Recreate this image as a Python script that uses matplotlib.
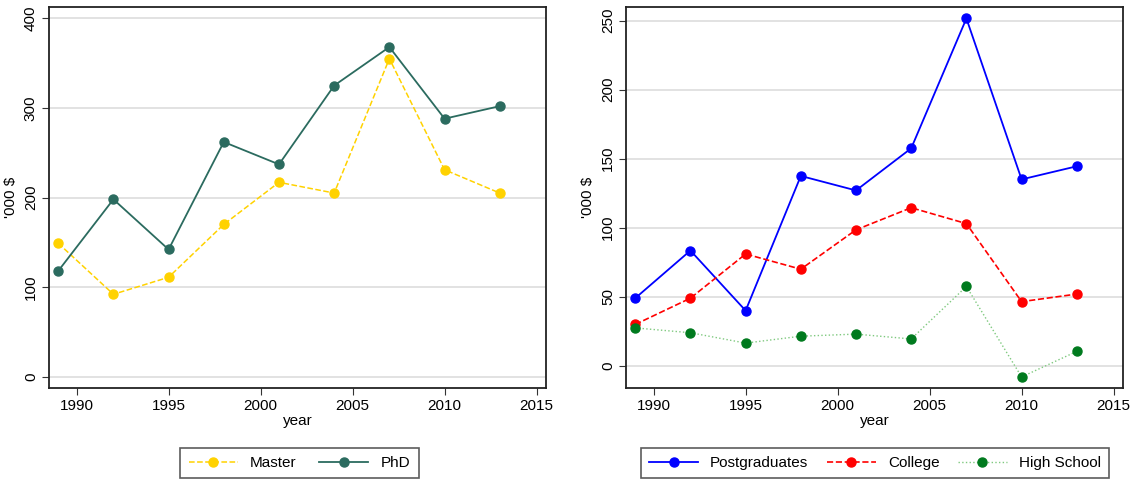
import numpy as np
import matplotlib
matplotlib.use("Agg")
import matplotlib.pyplot as plt

plt.rcParams['font.family'] = ['Liberation Sans', 'DejaVu Sans']

years = [1989, 1992, 1995, 1998, 2001, 2004, 2007, 2010, 2013]

# left panel
master = [149, 92, 111, 170, 217, 205, 355, 231, 205]
phd = [118, 198, 142, 262, 237, 325, 368, 288, 302]

# right panel
postgrad = [49, 83.5, 40, 137.5, 127, 157.5, 251.5, 135, 144.5]
college = [30, 49, 81, 70, 98.5, 114.5, 103, 46.5, 52]
highschool = [27.5, 24, 16.5, 21.5, 23, 19.5, 57.5, -8, 10.5]

xticks = [1990, 1995, 2000, 2005, 2010, 2015]

fig = plt.figure(figsize=(11.37, 4.83), dpi=100)
ax1 = fig.add_axes([0.0431, 0.1967, 0.4369, 0.7894])
ax2 = fig.add_axes([0.5506, 0.1967, 0.4369, 0.7894])

ms = 6.5
l1, = ax1.plot(years, master, color='#FFD200', ls='--', lw=1.1, marker='o', ms=ms, label='Master')
l2, = ax1.plot(years, phd, color='#2B6B5F', ls='-', lw=1.3, marker='o', ms=ms, label='PhD')

r1, = ax2.plot(years, postgrad, color='#0000FF', ls='-', lw=1.3, marker='o', ms=ms, label='Postgraduates')
r2, = ax2.plot(years, college, color='#FF0000', ls='--', lw=1.2, marker='o', ms=ms, label='College')
r3, = ax2.plot(years, highschool, color='#7FC97F', ls=':', lw=1.0, marker='o', ms=ms,
               markerfacecolor='#007A1E', markeredgecolor='#007A1E', label='High School')

fs = 11
for ax in (ax1, ax2):
    ax.set_xlim(1988.5, 2015.5)
    ax.set_xticks(xticks)
    ax.set_xlabel('year', fontsize=fs, labelpad=1)
    ax.set_ylabel("'000 $", fontsize=fs, labelpad=4)
    ax.grid(axis='y', color='#DDDDDD', lw=1.2)
    ax.set_axisbelow(True)
    ax.tick_params(axis='both', labelsize=fs, direction='out', length=5, width=0.8,
                   color='#333333', pad=3)
    for sp in ax.spines.values():
        sp.set_color('#222222')
        sp.set_linewidth(1.3)

ax1.set_ylim(-12.6, 413)
ax1.set_yticks([0, 100, 200, 300, 400])
ax2.set_ylim(-16, 260)
ax2.set_yticks([0, 50, 100, 150, 200, 250])
for ax in (ax1, ax2):
    for lab in ax.get_yticklabels():
        lab.set_rotation(90)
        lab.set_va('center')

leg_kw = dict(loc='center', fontsize=fs, frameon=True, fancybox=False, edgecolor='#333333',
              handlelength=3.2, handletextpad=0.8, borderpad=0.55)
lg1 = fig.legend(handles=[l1, l2], ncol=2, bbox_to_anchor=(0.2634, 0.0414),
                 columnspacing=1.5, **leg_kw)
lg2 = fig.legend(handles=[r1, r2, r3], ncol=3, bbox_to_anchor=(0.7696, 0.0414),
                 columnspacing=1.2, **leg_kw)
for lg in (lg1, lg2):
    lg.get_frame().set_linewidth(1.2)

fig.savefig('out.png', dpi=100)
